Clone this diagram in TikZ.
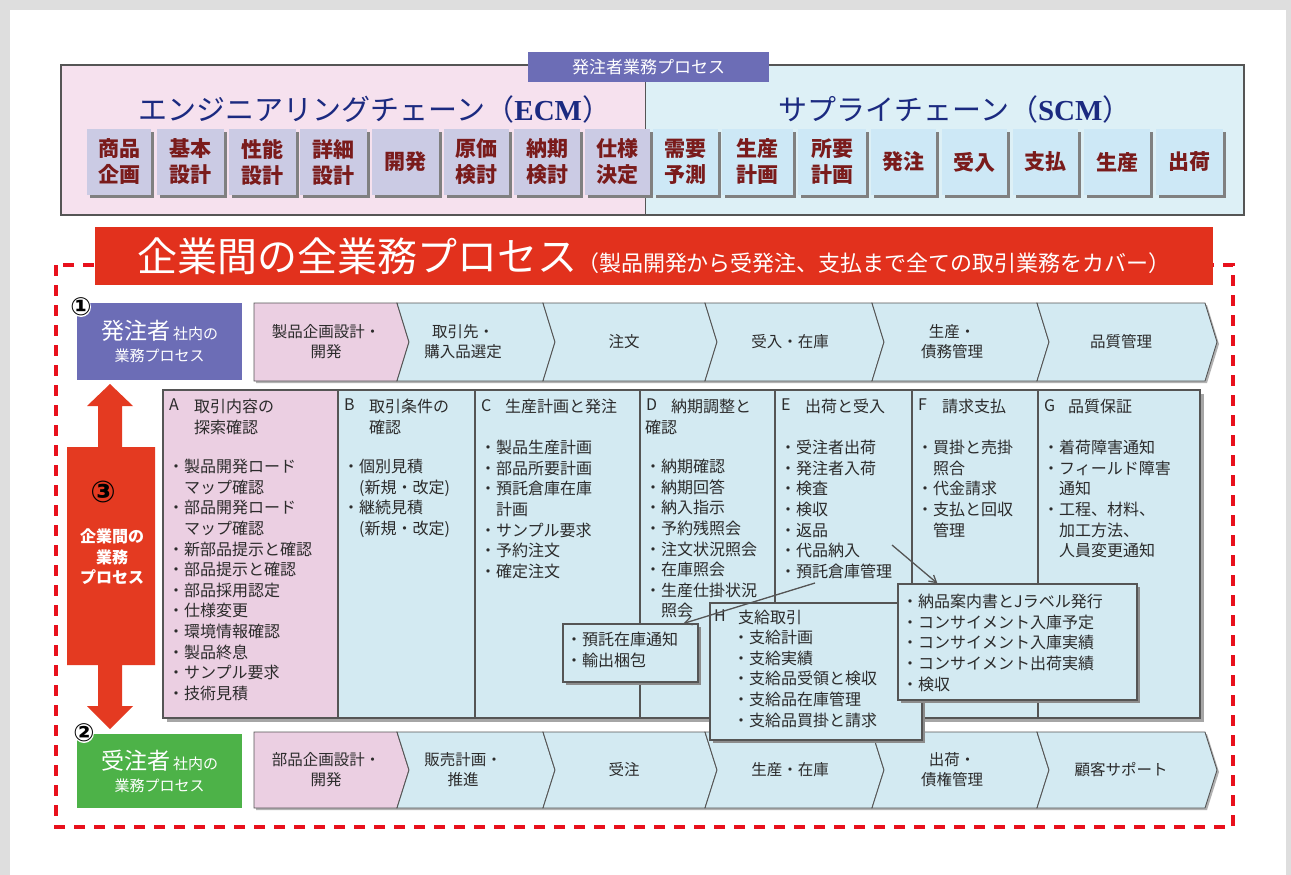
\documentclass[tikz,border=0pt]{standalone}
\usepackage{fontspec}
\setmainfont{Noto Sans CJK JP}
\newfontfamily\serifx{Liberation Serif}
\newfontfamily\djv{DejaVu Sans}
\usetikzlibrary{arrows.meta,calc,shadows}
\definecolor{framegray}{HTML}{DEDEDE}
\definecolor{toppink}{HTML}{F6E1EE}
\definecolor{topblue}{HTML}{DDF0F6}
\definecolor{ecmbox}{HTML}{CBCBE4}
\definecolor{scmbox}{HTML}{CDE8F6}
\definecolor{boxtxt}{HTML}{7A1B1B}
\definecolor{navy}{HTML}{1B2A80}
\definecolor{tabpurple}{HTML}{6C6DB6}
\definecolor{bannerred}{HTML}{E2311D}
\definecolor{arrowred}{HTML}{E43A21}
\definecolor{dashred}{HTML}{E8101C}
\definecolor{chevpink}{HTML}{EBCFE2}
\definecolor{chevblue}{HTML}{D3EAF2}
\definecolor{bordergray}{HTML}{555555}
\definecolor{txtgray}{HTML}{2B2B2B}
\definecolor{greenbox}{HTML}{4DB248}
\begin{document}
\begin{tikzpicture}[x=1pt,y=-1pt,
  sbx/.style={minimum height=66, inner sep=0, align=center, text=boxtxt, font=\bfseries\fontsize{21}{26}\selectfont, drop shadow={shadow xshift=2.5pt,shadow yshift=-2.5pt,fill=black!50,opacity=1}},
  chevtxt/.style={align=center, inner sep=0, text=txtgray, font=\fontsize{15.5}{20}\selectfont},
  colbox/.style={draw=bordergray, line width=1.1, inner sep=0, minimum height=328},
  celltxt/.style={anchor=north west, align=left, inner sep=0, text=txtgray, font=\fontsize{16}{20.6}\selectfont},
  callout/.style={draw=bordergray, line width=1.2, fill=chevblue, inner sep=0, drop shadow={shadow xshift=3pt,shadow yshift=-3pt,fill=black!45,opacity=1}},
  ownbox/.style={inner sep=0, minimum width=165, text=white, align=center, font=\fontsize{15}{22}\selectfont},
  conn/.style={draw=bordergray, line width=1.3, -{Straight Barb[length=7pt,width=8pt]}},
  circnum/.style={inner sep=0, font=\djv\bfseries\fontsize{25}{25}\selectfont},
  chevline/.style={draw=bordergray, line width=0.9}
]
\useasboundingbox (0,0) rectangle (1291,875);
\fill[framegray] (0,0) rectangle (1291,875);
\fill[white] (10,10) rectangle (1286,875);

% ---------- top box ----------
\fill[toppink] (61,65) rectangle (645,215);
\fill[topblue] (645,65) rectangle (1244,215);
\draw[bordergray, line width=1.6] (61,65) rectangle (1244,215);
\draw[bordergray, line width=1] (645,65) -- (645,215);
\foreach \a/\b/\t/\c [count=\i] in {87/151/{商品\\企画}/ecmbox, 157/224/{基本\\設計}/ecmbox, 229/296/{性能\\設計}/ecmbox, 300/367/{詳細\\設計}/ecmbox, 372/439/{開発}/ecmbox, 444/509/{原価\\検討}/ecmbox, 514/580/{納期\\検討}/ecmbox, 585/650/{仕様\\決定}/ecmbox, 653/718/{需要\\予測}/scmbox, 722/793/{生産\\計画}/scmbox, 798/866/{所要\\計画}/scmbox, 871/936/{発注}/scmbox, 942/1007/{受入}/scmbox, 1013/1078/{支払}/scmbox, 1084/1150/{生産}/scmbox, 1156/1223/{出荷}/scmbox}
  \node[sbx, fill=\c, minimum width=\b-\a] (p\i) at ({(\a+\b)/2},162) {\t};
\node[inner sep=0, text=navy, font=\fontsize{29}{29}\selectfont] (ecm) at (375,109) {エンジニアリングチェーン（{\serifx\bfseries ECM}）};
\node[inner sep=0, text=navy, font=\fontsize{29}{29}\selectfont] (scm) at (955,109) {サプライチェーン（{\serifx\bfseries SCM}）};
\node[fill=tabpurple, minimum width=241, minimum height=30, inner sep=0, text=white, font=\fontsize{17}{17}\selectfont] (tab) at (648.5,67) {発注者業務プロセス};

% ---------- dashed frame and banner ----------
\draw[dashred, line width=3.2, dash pattern=on 11pt off 9pt] (56,265) rectangle (1233,827);
\node[fill=bannerred, minimum width=1118, minimum height=58, inner sep=0, text=white] (banner) at (654,256)
  {{\fontsize{40}{40}\selectfont 企業間の全業務プロセス}{\fontsize{22}{22}\selectfont （製品開発から受発注、支払まで全ての取引業務をカバー）}};

% ---------- row 1 ----------
\node[ownbox, fill=tabpurple, minimum height=77] (own1) at (159.5,341.5) {{\fontsize{23}{23}\selectfont 発注者}\hspace{3pt}社内の\\業務プロセス};
\fill[black!30] (256,305) -- (1207,305) -- (1219,344) -- (1207,383) -- (256,383) -- cycle;
\foreach \l/\r/\c [count=\i] in {254/397/chevpink, 397/543/chevblue, 543/705/chevblue, 705/872/chevblue, 872/1037/chevblue, 1037/1205/chevblue}{
  \ifnum\i=1
    \filldraw[fill=\c, chevline] (\l,303) -- (\r,303) -- (\r+12,342) -- (\r,381) -- (\l,381) -- cycle;
  \else
    \filldraw[fill=\c, chevline] (\l,303) -- (\r,303) -- (\r+12,342) -- (\r,381) -- (\l,381) -- (\l+12,342) -- cycle;
  \fi
}
\node[chevtxt] (u1) at (326,342) {製品企画設計・\\開発};
\node[chevtxt] (u2) at (463,342) {取引先・\\購入品選定};
\node[chevtxt] (u3) at (624,342) {注文};
\node[chevtxt] (u4) at (790,342) {受入・在庫};
\node[chevtxt] (u5) at (952,342) {生産・\\債務管理};
\node[chevtxt] (u6) at (1121,342) {品質管理};
\fill[white] (81,307) circle (10);
\node[circnum] (n1) at (81,307) {①};

% ---------- double arrow ----------
\fill[arrowred] (110,384) -- (133,406) -- (122,406) -- (122,447) -- (155,447) -- (155,665) -- (122,665) -- (122,706) -- (133,706) -- (110,729) -- (87,706) -- (98,706) -- (98,665) -- (67,665) -- (67,447) -- (98,447) -- (98,406) -- (87,406) -- cycle;
\node[inner sep=0, font=\djv\bfseries\fontsize{30}{30}\selectfont] (n3) at (103,492) {③};
\node[inner sep=0, align=center, text=white, font=\bfseries\fontsize{16}{20.5}\selectfont] (biz) at (112,557) {企業間の\\業務\\プロセス};

% ---------- table ----------
\fill[black!35] (167,394) rectangle (1204,722);
\node[colbox, fill=chevpink, minimum width=175] (cA) at (250.5,554) {};
\node[colbox, fill=chevblue, minimum width=137] (cB) at (406.5,554) {};
\node[colbox, fill=chevblue, minimum width=165] (cC) at (557.5,554) {};
\node[colbox, fill=chevblue, minimum width=135] (cD) at (707.5,554) {};
\node[colbox, fill=chevblue, minimum width=137] (cE) at (843.5,554) {};
\node[colbox, fill=chevblue, minimum width=126] (cF) at (975,554) {};
\node[colbox, fill=chevblue, minimum width=162] (cG) at (1119,554) {};

\node[celltxt] (hA) at (169,399) {A};
\node[celltxt] (tA) at (194,399) {取引内容の\\探索確認};
\node[celltxt] (iA) at (168,459) {・製品開発ロード\\　マップ確認\\・部品開発ロード\\　マップ確認\\・新部品提示と確認\\・部品提示と確認\\・部品採用認定\\・仕様変更\\・環境情報確認\\・製品終息\\・サンプル要求\\・技術見積};
\node[celltxt] (hB) at (344,399) {B};
\node[celltxt] (tB) at (369,399) {取引条件の\\確認};
\node[celltxt] (iB) at (343,459) {・個別見積\\　(新規・改定)\\・継続見積\\　(新規・改定)};
\node[celltxt] (hC) at (481,399) {C};
\node[celltxt] (tC) at (505,399) {生産計画と発注};
\node[celltxt] (iC) at (480,440) {・製品生産計画\\・部品所要計画\\・預託倉庫在庫\\　計画\\・サンプル要求\\・予約注文\\・確定注文};
\node[celltxt] (hD) at (646,399) {D};
\node[celltxt] (tD) at (671,399) {納期調整と};
\node[celltxt] (tD2) at (645,419.6) {確認};
\node[celltxt] (iD) at (645,459) {・納期確認\\・納期回答\\・納入指示\\・予約残照会\\・注文状況照会\\・在庫照会\\・生産仕掛状況\\　照会};
\node[celltxt] (hE) at (781,399) {E};
\node[celltxt] (tE) at (805,399) {出荷と受入};
\node[celltxt] (iE) at (780,440) {・受注者出荷\\・発注者入荷\\・検査\\・検収\\・返品\\・代品納入\\・預託倉庫管理};
\node[celltxt] (hF) at (918,399) {F};
\node[celltxt] (tF) at (942,399) {請求支払};
\node[celltxt] (iF) at (917,440) {・買掛と売掛\\　照合\\・代金請求\\・支払と回収\\　管理};
\node[celltxt] (hG) at (1044,399) {G};
\node[celltxt] (tG) at (1068,399) {品質保証};
\node[celltxt] (iG) at (1043,440) {・着荷障害通知\\・フィールド障害\\　通知\\・工程、材料、\\　加工方法、\\　人員変更通知};

% ---------- row 2 ----------
\node[ownbox, fill=greenbox, minimum height=74] (own2) at (159.5,771) {{\fontsize{23}{23}\selectfont 受注者}\hspace{3pt}社内の\\業務プロセス};
\fill[black!30] (256,734) -- (1207,734) -- (1219,772) -- (1207,810) -- (256,810) -- cycle;
\foreach \l/\r/\c [count=\i] in {254/397/chevpink, 397/543/chevblue, 543/705/chevblue, 705/872/chevblue, 872/1037/chevblue, 1037/1205/chevblue}{
  \ifnum\i=1
    \filldraw[fill=\c, chevline] (\l,732) -- (\r,732) -- (\r+12,770) -- (\r,808) -- (\l,808) -- cycle;
  \else
    \filldraw[fill=\c, chevline] (\l,732) -- (\r,732) -- (\r+12,770) -- (\r,808) -- (\l,808) -- (\l+12,770) -- cycle;
  \fi
}
\node[chevtxt] (d1) at (326,770) {部品企画設計・\\開発};
\node[chevtxt] (d2) at (463,770) {販売計画・\\推進};
\node[chevtxt] (d3) at (624,770) {受注};
\node[chevtxt] (d4) at (790,770) {生産・在庫};
\node[chevtxt] (d5) at (952,770) {出荷・\\債権管理};
\node[chevtxt] (d6) at (1121,770) {顧客サポート};
\fill[white] (84,733) circle (10);
\node[circnum] (n2) at (84,733) {②};

% ---------- callouts ----------
\node[callout, minimum width=135, minimum height=58] (call1) at (630.5,653) {};
\node[celltxt] (call1t) at (566,632) {・預託在庫通知\\・輸出梱包};
\node[callout, minimum width=212, minimum height=137] (hbox) at (816,671.5) {};
\node[celltxt] (hH) at (714,610) {H};
\node[celltxt] (tH) at (738,610) {支給取引};
\node[celltxt] (iH) at (733,630) {・支給計画\\・支給実績\\・支給品受領と検収\\・支給品在庫管理\\・支給品買掛と請求};
\node[callout, minimum width=239, minimum height=116] (cons) at (1017.5,642) {};
\node[celltxt] (iCons) at (902,594) {・納品案内書とJラベル発行\\・コンサイメント入庫予定\\・コンサイメント入庫実績\\・コンサイメント出荷実績\\・検収};

% ---------- connectors ----------
\coordinate (a1s) at (815,583);
\draw[conn] (a1s) -- ($(call1.north east)+(-15,0)$);
\coordinate (a2s) at (892,545);
\draw[conn] (a2s) -- ($(cons.north west)+(40,0)$);
\end{tikzpicture}
\end{document}
